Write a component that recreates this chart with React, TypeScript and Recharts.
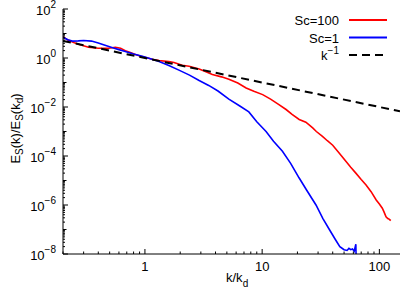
import React from 'react';
import { LineChart, Line, XAxis, YAxis, Customized } from 'recharts';

const FONT = '"Liberation Sans", Arial, Helvetica, sans-serif';

// Sc = 100 (red)
const kSc100 = [0.2, 0.22, 0.25, 0.28, 0.33, 0.4, 0.49, 0.56, 0.62, 0.68, 0.75, 0.83, 0.92, 1.0, 1.15, 1.32, 1.6, 1.77, 2.08, 2.38, 2.9, 3.2, 3.76, 4.5, 5.2, 6.2, 7.3, 8.5, 10.1, 11.8, 13.9, 16, 18, 20.7, 23.6, 27, 29, 32.7, 36, 40, 45, 52, 57, 63, 70, 77, 85, 94, 100, 106, 110, 114, 118, 122, 125];
const eSc100 = [7.5, 5.4, 4.2, 3.5, 2.75, 2.5, 2.5, 2.75, 2.5, 2.0, 1.66, 1.38, 1.17, 1.07, 0.89, 0.78, 0.72, 0.66, 0.51, 0.46, 0.355, 0.295, 0.214, 0.17, 0.135, 0.095, 0.06, 0.044, 0.032, 0.021, 0.0126, 0.0079, 0.005, 0.0031, 0.0024, 0.0014, 0.001, 6.3e-4, 4.2e-4, 2.75e-4, 1.4e-4, 6e-5, 3.5e-5, 2e-5, 1.1e-5, 6.6e-6, 3.5e-6, 1.6e-6, 1.1e-6, 7.4e-7, 5e-7, 3.3e-7, 2.8e-7, 2.6e-7, 2.3e-7];

// Sc = 1 (blue)
const kSc1 = [0.2, 0.22, 0.24, 0.27, 0.3, 0.35, 0.4, 0.45, 0.53, 0.6, 0.68, 0.8, 0.95, 1.1, 1.32, 1.6, 1.95, 2.4, 2.9, 3.5, 4.2, 5.2, 6.4, 7.7, 9, 10.8, 12.5, 14.9, 17.5, 20.7, 24, 28.8, 33, 38, 42, 46, 50, 53, 55, 57, 59, 61, 62, 63, 63.5];
const eSc1 = [7.0, 5.6, 4.9, 5.0, 5.2, 4.9, 4.1, 3.4, 2.6, 2.2, 1.86, 1.45, 1.17, 0.95, 0.72, 0.49, 0.32, 0.2, 0.12, 0.076, 0.045, 0.021, 0.0112, 0.0063, 0.0025, 0.001, 4e-4, 1.55e-4, 5e-5, 1.26e-5, 4e-6, 1e-6, 2.8e-7, 8.9e-8, 4e-8, 2e-8, 1.5e-8, 1.4e-8, 1.7e-8, 1.5e-8, 1.6e-8, 1.3e-8, 1.8e-8, 2.5e-8, 5e-9];

// k^-1 reference
const kRef = [0.2, 150];
const eRef = [5, 0.00667];

const xDomain = [0.2, 150];
const yDomain = [1e-8, 100];
const xMajor = [1, 10, 100];
const xTickLabels = ['1', '10', '100'];
const xMinor = [0.2, 0.3, 0.4, 0.5, 0.6, 0.7, 0.8, 0.9, 2, 3, 4, 5, 6, 7, 8, 9, 20, 30, 40, 50, 60, 70, 80, 90];
const xTicks = [...xMinor, ...xMajor].sort((a, b) => a - b);
const yDecades = [1e-8, 1e-7, 1e-6, 1e-5, 1e-4, 1e-3, 1e-2, 1e-1, 1, 10, 100];
const yMultipliers = [2, 3, 4, 5, 6, 7, 8, 9];
const yTicks = [
  ...yDecades,
  ...yDecades.slice(0, -1).flatMap((d) => yMultipliers.map((m) => m * d)),
].sort((a, b) => a - b);

const legendItems = [
  { name: 'Sc=100', color: '#ff0000', dash: undefined as string | undefined },
  { name: 'Sc=1', color: '#0000ff', dash: undefined as string | undefined },
  { name: 'k', sup: '−1', color: '#000000', dash: '8 5' },
];

const toData = (ks: number[], es: number[]) => ks.map((k, i) => ({ k, e: es[i] }));
const sc100Data = toData(kSc100, eSc100);
const sc1Data = toData(kSc1, eSc1);
const refData = toData(kRef, eRef);

const decadeInfo = (v: number) => {
  const l = Math.log10(v);
  const r = Math.round(l);
  const isDecade = Math.abs(l - r) < 1e-6;
  return { isDecade, exp: r };
};

const XTickBottom = (props: any) => {
  const { x, y, payload } = props;
  const idx = xMajor.indexOf(payload.value);
  const major = idx >= 0;
  return (
    <g>
      <line x1={x} x2={x} y1={y} y2={y - (major ? 5 : 2.5)} stroke="#000" strokeWidth={1} />
      {major && (
        <text x={x} y={y + 17} textAnchor="middle" fontSize={13} fontFamily={FONT} fill="#000">
          {xTickLabels[idx]}
        </text>
      )}
    </g>
  );
};

const XTickTop = (props: any) => {
  const { x, y, payload } = props;
  const major = xMajor.indexOf(payload.value) >= 0;
  return <line x1={x} x2={x} y1={y} y2={y + (major ? 5 : 2.5)} stroke="#000" strokeWidth={1} />;
};

const yTickLen = (v: number) => {
  const { isDecade, exp } = decadeInfo(v);
  if (isDecade && exp % 2 === 0) return 5;
  if (isDecade) return 3.5;
  return 2;
};

const YTickLeft = (props: any) => {
  const { x, y, payload } = props;
  const v = payload.value;
  const { isDecade, exp } = decadeInfo(v);
  const labeled = isDecade && exp % 2 === 0;
  const expStr = exp < 0 ? '−' + Math.abs(exp) : String(exp);
  return (
    <g>
      <line x1={x} x2={x + yTickLen(v)} y1={y} y2={y} stroke="#000" strokeWidth={1} />
      {labeled && (
        <text x={x - 7} y={y + 5.5} textAnchor="end" fontSize={13} fontFamily={FONT} fill="#000">
          <tspan>10</tspan>
          <tspan dy={-7} fontSize={10}>{expStr}</tspan>
        </text>
      )}
    </g>
  );
};

const YTickRight = (props: any) => {
  const { x, y, payload } = props;
  return <line x1={x} x2={x - yTickLen(payload.value)} y1={y} y2={y} stroke="#000" strokeWidth={1} />;
};

const Decorations = () => (
  <g fontFamily={FONT} fill="#000">
    {legendItems.map((it, i) => {
      const base = 25 + i * 17.5;
      const ly = base - 5;
      return (
        <g key={it.name}>
          <text x={339} y={base} textAnchor="end" fontSize={13}>
            <tspan>{it.name}</tspan>
            {it.sup && (
              <tspan dy={-6} fontSize={10}>{it.sup}</tspan>
            )}
          </text>
          <line x1={349} x2={387} y1={ly} y2={ly} stroke={it.color} strokeWidth={it.dash ? 2 : 1.8} strokeDasharray={it.dash} />
        </g>
      );
    })}
    <text x={226} y={282} fontSize={13}>
      <tspan>k/k</tspan>
      <tspan dy={5} fontSize={10}>d</tspan>
    </text>
    <text x={20} y={128.5} textAnchor="middle" fontSize={13} transform="rotate(-90, 20, 128.5)">
      <tspan>E</tspan>
      <tspan dy={3} fontSize={10}>S</tspan>
      <tspan dy={-3}>(k)/E</tspan>
      <tspan dy={3} fontSize={10}>S</tspan>
      <tspan dy={-3}>(k</tspan>
      <tspan dy={3} fontSize={10}>d</tspan>
      <tspan dy={-3}>)</tspan>
    </text>
  </g>
);

export default function App() {
  return (
    <div style={{ position: 'absolute', left: 0, top: 0, background: '#fff' }}>
      <LineChart width={415} height={291} margin={{ top: 9, right: 15, bottom: 0, left: 0 }}>
        <XAxis
          xAxisId="b"
          dataKey="k"
          type="number"
          scale="log"
          domain={xDomain}
          allowDataOverflow
          ticks={xTicks}
          interval={0}
          height={37}
          tickSize={0}
          tickMargin={0}
          tickLine={false}
          axisLine={{ stroke: '#000', strokeWidth: 1 }}
          tick={XTickBottom}
        />
        <XAxis
          xAxisId="t"
          orientation="top"
          dataKey="k"
          type="number"
          scale="log"
          domain={xDomain}
          allowDataOverflow
          ticks={xTicks}
          interval={0}
          height={0}
          tickSize={0}
          tickMargin={0}
          tickLine={false}
          axisLine={{ stroke: '#000', strokeWidth: 1 }}
          tick={XTickTop}
        />
        <YAxis
          yAxisId="l"
          type="number"
          scale="log"
          domain={yDomain}
          allowDataOverflow
          ticks={yTicks}
          interval={0}
          width={63}
          tickSize={0}
          tickMargin={0}
          tickLine={false}
          axisLine={{ stroke: '#000', strokeWidth: 1 }}
          tick={YTickLeft}
        />
        <YAxis
          yAxisId="r"
          orientation="right"
          type="number"
          scale="log"
          domain={yDomain}
          allowDataOverflow
          ticks={yTicks}
          interval={0}
          width={0}
          tickSize={0}
          tickMargin={0}
          tickLine={false}
          axisLine={{ stroke: '#000', strokeWidth: 1 }}
          tick={YTickRight}
        />
        <Line xAxisId="b" yAxisId="l" data={sc100Data} dataKey="e" stroke="#ff0000" strokeWidth={1.6} dot={false} isAnimationActive={false} />
        <Line xAxisId="b" yAxisId="l" data={sc1Data} dataKey="e" stroke="#0000ff" strokeWidth={1.6} dot={false} isAnimationActive={false} />
        <Line xAxisId="b" yAxisId="l" data={refData} dataKey="e" stroke="#000000" strokeWidth={2} strokeDasharray="8 5" dot={false} isAnimationActive={false} />
        <Customized component={Decorations} />
      </LineChart>
    </div>
  );
}
